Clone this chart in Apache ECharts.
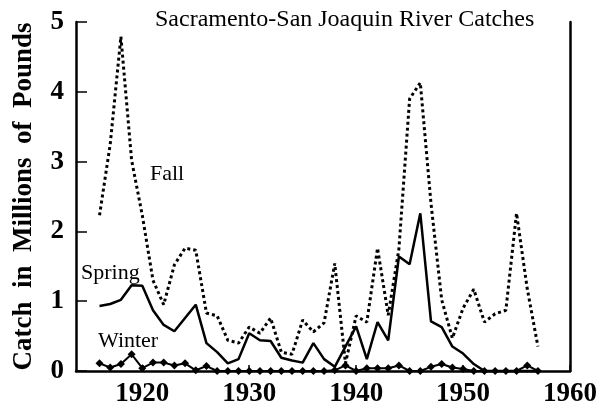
<!DOCTYPE html>
<html>
<head>
<meta charset="utf-8">
<script src="https://cdn.jsdelivr.net/npm/echarts@6/dist/echarts.min.js"></script>
<style>
  html, body { margin: 0; padding: 0; background: #fff; }
  #chart { width: 606px; height: 406px; }
</style>
</head>
<body>
<div id="chart"></div>
<script>
// catch data, millions of pounds, one value per year
var years = [1916, 1917, 1918, 1919, 1920, 1921, 1922, 1923, 1924, 1925,
             1926, 1927, 1928, 1929, 1930, 1931, 1932, 1933, 1934, 1935,
             1936, 1937, 1938, 1939, 1940, 1941, 1942, 1943, 1944, 1945,
             1946, 1947, 1948, 1949, 1950, 1951, 1952, 1953, 1954, 1955,
             1956, 1957];
var fall = [2.23, 3.25, 4.79, 3.02, 2.23, 1.3, 0.95, 1.52, 1.76, 1.73,
            0.83, 0.79, 0.44, 0.4, 0.63, 0.54, 0.76, 0.27, 0.24, 0.73,
            0.56, 0.69, 1.54, 0.11, 0.79, 0.7, 1.76, 0.8, 1.75, 3.9,
            4.13, 2.4, 1.02, 0.47, 0.9, 1.17, 0.7, 0.82, 0.87, 2.26,
            1.18, 0.35];
var spring = [0.93, 0.96, 1.02, 1.23, 1.22, 0.87, 0.66, 0.57, 0.76, 0.95,
              0.4, 0.27, 0.11, 0.17, 0.54, 0.44, 0.43, 0.19, 0.15, 0.12,
              0.4, 0.17, 0.06, 0.35, 0.64, 0.17, 0.7, 0.44, 1.64, 1.53,
              2.26, 0.71, 0.63, 0.35, 0.25, 0.1, 0, 0, 0, 0,
              0, 0];
var winter = [0.11, 0.05, 0.1, 0.24, 0.04, 0.12, 0.12, 0.08, 0.11, 0.01,
              0.07, 0, 0, 0, 0, 0, 0, 0, 0, 0,
              0, 0, 0.01, 0.08, 0, 0.04, 0.04, 0.04, 0.08, 0,
              0, 0.06, 0.1, 0.05, 0.03, 0, 0, 0, 0, 0,
              0.08, 0];
var xTicks = [1920, 1930, 1940, 1950, 1960];

var serif = '"Liberation Serif", "Times New Roman", serif';

function pairs(vals) {
  return years.map(function (y, i) { return [y, vals[i]]; });
}

var chart = echarts.init(document.getElementById('chart'));

var option = {
  backgroundColor: '#fff',
  animation: false,
  title: {
    text: 'Sacramento-San Joaquin River Catches',
    left: 150,
    top: 3,
    textStyle: { fontFamily: serif, fontSize: 24, fontWeight: 'normal', color: '#000' }
  },
  grid: { left: 76, right: 36, top: 22, bottom: 35, outerBoundsMode: 'none' },
  xAxis: {
    type: 'value',
    min: 1913.8,
    max: 1960,
    axisLine: { lineStyle: { color: '#000', width: 2.5 } },
    axisTick: { inside: true, length: 6, customValues: xTicks, lineStyle: { color: '#000', width: 1.5 } },
    axisLabel: {
      customValues: xTicks,
      formatter: function (v) { return String(v); },
      margin: 10,
      color: '#000',
      fontFamily: serif,
      fontSize: 27,
      fontWeight: 'bold'
    },
    splitLine: { show: false }
  },
  yAxis: [
    {
      type: 'value',
      min: 0,
      max: 5,
      interval: 1,
      name: 'Catch  in  Millions  of  Pounds',
      nameLocation: 'middle',
      nameGap: 38,
      nameTextStyle: { fontFamily: serif, fontSize: 27, fontWeight: 'bold', color: '#000' },
      axisLine: { show: true, lineStyle: { color: '#000', width: 2.5 } },
      axisTick: { inside: true, length: 11, lineStyle: { color: '#000', width: 1.5 } },
      axisLabel: { margin: 12, color: '#000', fontFamily: serif, fontSize: 27, fontWeight: 'bold' },
      splitLine: { show: false }
    },
    {
      type: 'value',
      position: 'right',
      min: 0,
      max: 5,
      axisLine: { show: true, lineStyle: { color: '#000', width: 2.5 } },
      axisTick: { show: false },
      axisLabel: { show: false },
      splitLine: { show: false }
    }
  ],
  series: [
    {
      name: 'Fall',
      type: 'line',
      data: pairs(fall),
      showSymbol: false,
      clip: false,
      lineStyle: { color: '#000', width: 3, type: [3, 3] }
    },
    {
      name: 'Spring',
      type: 'line',
      data: pairs(spring),
      showSymbol: false,
      clip: false,
      lineStyle: { color: '#000', width: 2.5 }
    },
    {
      name: 'Winter',
      type: 'line',
      data: pairs(winter),
      symbol: 'diamond',
      symbolSize: 8,
      clip: false,
      itemStyle: { color: '#000' },
      lineStyle: { color: '#000', width: 2 }
    }
  ],
  graphic: [
    { type: 'text', left: 150, top: 163, style: { text: 'Fall', font: '22px ' + serif, fill: '#000' } },
    { type: 'text', left: 81, top: 262, style: { text: 'Spring', font: '22px ' + serif, fill: '#000' } },
    { type: 'text', left: 98, top: 330, style: { text: 'Winter', font: '22px ' + serif, fill: '#000' } }
  ]
};

chart.setOption(option);
</script>
</body>
</html>
